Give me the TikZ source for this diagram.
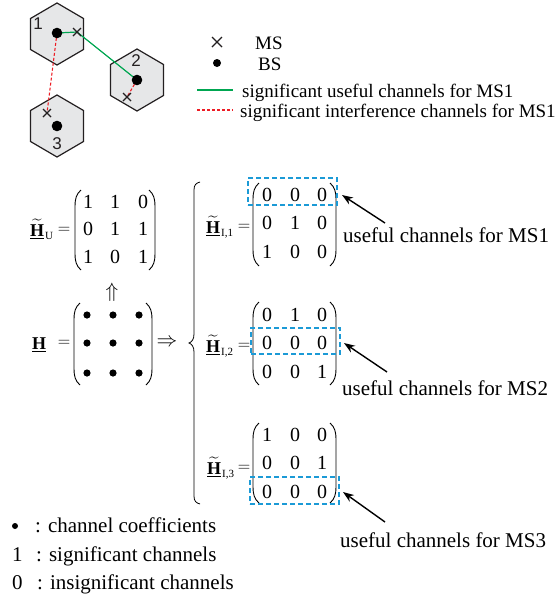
\documentclass[tikz,border=0pt]{standalone}
\usepackage{amsmath}
\usepackage{fontspec}
\setmainfont{Liberation Serif}
\newfontfamily\arialf{Liberation Sans}
\usetikzlibrary{arrows.meta}
\definecolor{hexfill}{RGB}{230,231,232}
\definecolor{hexedge}{RGB}{35,31,32}
\definecolor{usegreen}{RGB}{0,166,81}
\definecolor{intred}{RGB}{237,28,36}
\definecolor{boxblue}{RGB}{27,154,214}
\tikzset{
  hexline/.style={draw=hexedge, fill=hexfill, line width=1.2pt, line join=miter},
  usefulline/.style={draw=usegreen, line width=1.2pt},
  interfline/.style={draw=intred, line width=1.1pt, dash pattern=on 3pt off 2pt},
  msxline/.style={draw=hexedge, line width=1.1pt},
  hexnum/.style={font=\arialf\fontsize{17}{20}\selectfont, inner sep=0pt, text=hexedge},
  txt/.style={font=\fontsize{21}{24}\selectfont, inner sep=0pt, anchor=base west},
  legtxt/.style={font=\fontsize{19}{22}\selectfont, inner sep=0pt, anchor=base west},
  entry/.style={font=\fontsize{20}{24}\selectfont, inner sep=0pt},
  eqsign/.style={font=\fontsize{16}{20}\selectfont, inner sep=0pt},
  parenline/.style={draw=black, line width=0.9pt},
  bluebox/.style={draw=boxblue, line width=1.4pt, dash pattern=on 5pt off 3pt, inner sep=0pt},
  pointer/.style={draw=black, line width=1.4pt, -{Stealth[length=11pt,width=8pt]}},
}
\newcommand{\hexcell}[2]{\draw[hexline,shift={(#1,#2)}] (0,-31) -- (26.5,-15.5) -- (26.5,15.5) -- (0,31) -- (-26.5,15.5) -- (-26.5,-15.5) -- cycle;}
\newcommand{\crossat}[2]{\draw[msxline] ([shift={(-#2,-#2)}]#1) -- ([shift={(#2,#2)}]#1) ([shift={(-#2,#2)}]#1) -- ([shift={(#2,-#2)}]#1);}
% parens: x, top, bottom
\newcommand{\lpar}[3]{\draw[parenline] ({#1+6},#2) .. controls ({#1+1},{#2+4}) and (#1,{#2+10}) .. (#1,{#2+16}) -- (#1,{#3-16}) .. controls (#1,{#3-10}) and ({#1+1},{#3-4}) .. ({#1+6},#3);}
\newcommand{\rpar}[3]{\draw[parenline] ({#1-6},#2) .. controls ({#1-1},{#2+4}) and (#1,{#2+10}) .. (#1,{#2+16}) -- (#1,{#3-16}) .. controls (#1,{#3-10}) and ({#1-1},{#3-4}) .. ({#1-6},#3);}
\newcommand{\Hlab}[1]{{\fontsize{18}{20}\selectfont$\widetilde{\underline{\textbf{H}}}$}\hspace{1pt}\raisebox{-3pt}{\fontsize{11}{12}\selectfont #1}}
\begin{document}
\begin{tikzpicture}[x=1pt,y=-1pt]
\useasboundingbox (0,0) rectangle (556,600);
% ---------- cells ----------
\hexcell{57}{34}
\hexcell{137}{80}
\hexcell{57}{126}
\node[hexnum] (c1) at (38,24) {1};
\node[hexnum] (c2) at (136,61) {2};
\node[hexnum] (c3) at (57,144) {3};
\coordinate (bs1) at (57,33);
\coordinate (bs2) at (137,80);
\coordinate (bs3) at (57,126);
\coordinate (ms1) at (77,32);
\coordinate (ms2) at (127,97);
\coordinate (ms3) at (47,113);
\draw[usefulline] (bs1) -- (ms1) -- (bs2);
\draw[interfline] (bs1) -- (ms3);
\draw[interfline] (bs2) -- (ms2);
\fill[black] (bs1) circle[radius=5.3pt];
\fill[black] (bs2) circle[radius=5.3pt];
\fill[black] (bs3) circle[radius=5.3pt];
\crossat{ms1}{4}
\crossat{ms2}{4}
\crossat{ms3}{4}
% ---------- legend ----------
\coordinate (lgx) at (217,42);
\crossat{lgx}{5}
\node[legtxt] (lgms) at (255,49) {MS};
\coordinate (lgdot) at (217,63);
\fill[black] (lgdot) circle[radius=4pt];
\node[legtxt] (lgbs) at (258,70) {BS};
\coordinate (lgga) at (197,90);
\coordinate (lggb) at (233,90);
\draw[usefulline] (lgga) -- (lggb);
\node[legtxt] (lgg) at (242,97) {significant useful channels for MS1};
\coordinate (lgra) at (197,110);
\coordinate (lgrb) at (233,110);
\draw[interfline] (lgra) -- (lgrb);
\node[legtxt] (lgr) at (240,117) {significant interference channels for MS1};
% ---------- H_U ----------
\node[txt] (hu) at (30,236) {\Hlab{U}};
\node[eqsign] (hueq) at (64,230) {$=$};
\lpar{75}{190}{270}
\rpar{155}{190}{270}
\node[entry] (u11) at (88,202) {1};
\node[entry] (u12) at (115,202) {1};
\node[entry] (u13) at (143,202) {0};
\node[entry] (u21) at (88,229) {0};
\node[entry] (u22) at (115,229) {1};
\node[entry] (u23) at (143,229) {1};
\node[entry] (u31) at (88,257) {1};
\node[entry] (u32) at (115,257) {0};
\node[entry] (u33) at (143,257) {1};
\node[entry] (uparr) at (112,292) {$\Uparrow$};
% ---------- H ----------
\node[txt] (hh) at (32,349) {\fontsize{18}{20}\selectfont$\underline{\textbf{H}}$};
\node[eqsign] (hheq) at (64,343) {$=$};
\lpar{74}{303}{385}
\rpar{152}{303}{385}
\foreach \r/\yy in {1/315,2/343,3/373}{
  \foreach \c/\xx in {1/87,2/113,3/139}{
    \fill[black] (\xx,\yy) circle[radius=3.6pt] coordinate (hd\r\c);
  }
}
\node[entry] (rarr) at (167,343) {$\Rightarrow$};
% ---------- brace ----------
\draw[parenline, line width=0.8pt] (200,182) .. controls (196,183) and (194,185) .. (194,190) -- (194,334) .. controls (194,339) and (192,342) .. (189,343) .. controls (192,344) and (194,347) .. (194,352) -- (194,496) .. controls (194,501) and (196,503) .. (200,504);
% ---------- H_I,1 ----------
\node[txt] (hi1) at (206,233) {\Hlab{I,1}};
\node[eqsign] (hi1eq) at (244,227) {$=$};
\lpar{253}{183}{266}
\rpar{336}{183}{266}
\node[entry] (a11) at (267,195) {0};
\node[entry] (a12) at (295,195) {0};
\node[entry] (a13) at (322,195) {0};
\node[entry] (a21) at (267,223) {0};
\node[entry] (a22) at (295,223) {1};
\node[entry] (a23) at (322,223) {0};
\node[entry] (a31) at (267,252) {1};
\node[entry] (a32) at (295,252) {0};
\node[entry] (a33) at (322,252) {0};
\node[bluebox, minimum width=89pt, minimum height=27pt] (box1) at (292.5,191.5) {};
\coordinate (tail1) at (385,223);
\coordinate (tip1) at (342,195);
\draw[pointer] (tail1) -- (tip1);
\node[txt] (lab1) at (343,242) {useful channels for MS1};
% ---------- H_I,2 ----------
\node[txt] (hi2) at (206,352) {\Hlab{I,2}};
\node[eqsign] (hi2eq) at (244,346) {$=$};
\lpar{253}{302}{385}
\rpar{336}{302}{385}
\node[entry] (b11) at (267,315) {0};
\node[entry] (b12) at (295,315) {1};
\node[entry] (b13) at (322,315) {0};
\node[entry] (b21) at (267,343) {0};
\node[entry] (b22) at (295,343) {0};
\node[entry] (b23) at (322,343) {0};
\node[entry] (b31) at (267,372) {0};
\node[entry] (b32) at (295,372) {0};
\node[entry] (b33) at (322,372) {1};
\node[bluebox, minimum width=89pt, minimum height=26pt] (box2) at (295.5,341) {};
\coordinate (tail2) at (387,372);
\coordinate (tip2) at (344,343);
\draw[pointer] (tail2) -- (tip2);
\node[txt] (lab2) at (342,395) {useful channels for MS2};
% ---------- H_I,3 ----------
\node[txt] (hi3) at (207,474) {\Hlab{I,3}};
\node[eqsign] (hi3eq) at (244,468) {$=$};
\lpar{253}{423}{503}
\rpar{336}{423}{503}
\node[entry] (d11) at (267,435) {1};
\node[entry] (d12) at (295,435) {0};
\node[entry] (d13) at (322,435) {0};
\node[entry] (d21) at (267,463) {0};
\node[entry] (d22) at (295,463) {0};
\node[entry] (d23) at (322,463) {1};
\node[entry] (d31) at (267,492) {0};
\node[entry] (d32) at (295,492) {0};
\node[entry] (d33) at (322,492) {0};
\node[bluebox, minimum width=89pt, minimum height=27pt] (box3) at (294.5,490.5) {};
\coordinate (tail3) at (385,522);
\coordinate (tip3) at (343,492);
\draw[pointer] (tail3) -- (tip3);
\node[txt] (lab3) at (340,547) {useful channels for MS3};
% ---------- bottom legend ----------
\coordinate (kdot) at (15,526);
\fill[black] (kdot) circle[radius=3pt];
\node[txt] (k1) at (35,532) {: channel coefficients};
\node[txt] (k2n) at (12,561) {1};
\node[txt] (k2) at (36,561) {: significant channels};
\node[txt] (k3n) at (12,589) {0};
\node[txt] (k3) at (37,589) {: insignificant channels};
\end{tikzpicture}
\end{document}
